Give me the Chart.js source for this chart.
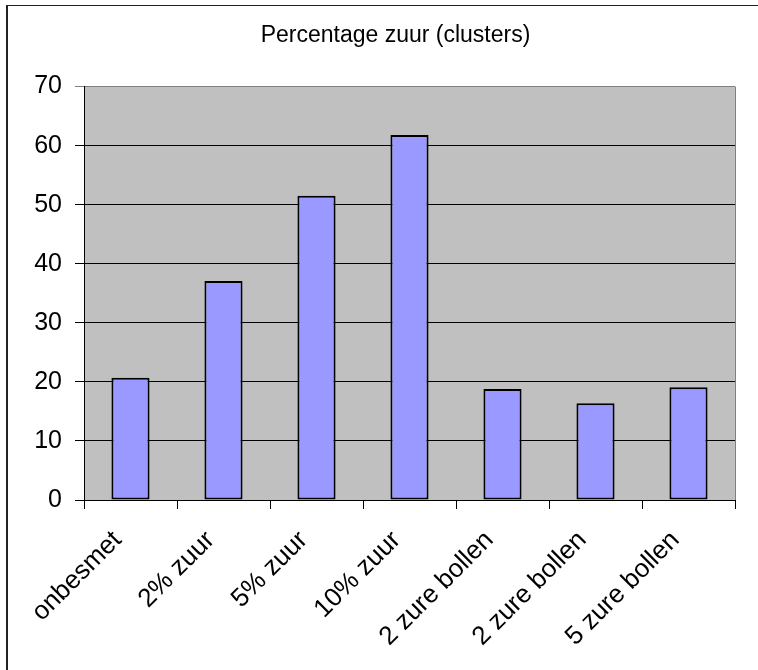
<!DOCTYPE html>
<html lang="en">
  <head>
    <meta charset="UTF-8" />
    <title>Percentage zuur (clusters)</title>
    <style>
      body {
        margin: 0;
        padding: 0;
        background: #fff;
      }
      .wrap {
        position: relative;
        width: 758px;
        height: 670px;
      }
    </style>
  </head>
  <body>
    <div class="wrap">
      <canvas id="chart" width="758" height="670"></canvas>
    </div>
    <script src="https://cdn.jsdelivr.net/npm/chart.js@4.4.0/dist/chart.umd.min.js"></script>
    <script>
      // data
      const categories = [
        'onbesmet',
        '2% zuur',
        '5% zuur',
        '10% zuur',
        '2 zure bollen',
        '2 zure bollen',
        '5 zure bollen',
      ];
      const values = [20.7, 37.1, 51.5, 61.8, 18.8, 16.4, 19.1];
      const yTicks = [0, 10, 20, 30, 40, 50, 60, 70];

      const fontFamily = "'Liberation Sans', Arial, sans-serif";

      // gray plot background, frame around the picture
      const frame = {
        id: 'frame',
        beforeDraw(chart) {
          const { ctx, chartArea } = chart;
          ctx.save();
          ctx.fillStyle = '#c0c0c0';
          ctx.fillRect(chartArea.left, chartArea.top, chartArea.right - chartArea.left, chartArea.bottom - chartArea.top);
          // outer border (left + top only, the rest is cut off)
          ctx.fillStyle = '#222';
          ctx.fillRect(6, 5, 2, 670);
          ctx.fillRect(6, 5, 758, 1);
          ctx.restore();
        },
        beforeDatasetsDraw(chart) {
          const { ctx, chartArea } = chart;
          ctx.save();
          ctx.strokeStyle = '#808080';
          ctx.lineWidth = 1;
          ctx.beginPath();
          ctx.moveTo(Math.round(chartArea.right) + 0.5, chartArea.top);
          ctx.lineTo(Math.round(chartArea.right) + 0.5, chartArea.bottom);
          ctx.stroke();
          ctx.restore();
        },
      };

      new Chart(document.getElementById('chart'), {
        type: 'bar',
        data: {
          labels: categories,
          datasets: [
            {
              data: values,
              backgroundColor: '#9999ff',
              borderColor: '#000',
              borderWidth: 2,
              borderSkipped: false,
              barPercentage: 0.41,
              categoryPercentage: 1,
            },
          ],
        },
        options: {
          responsive: false,
          animation: false,
          layout: {
            padding: { left: 33, right: 0, top: 0, bottom: 0 },
          },
          plugins: {
            legend: { display: false },
            tooltip: { enabled: false },
            title: {
              display: true,
              text: 'Percentage zuur (clusters)',
              color: '#000',
              font: { family: fontFamily, size: 23, weight: 'normal' },
              padding: { top: 22, bottom: 37 },
            },
          },
          scales: {
            x: {
              grid: {
                drawOnChartArea: false,
                drawTicks: true,
                tickLength: 9,
                color: '#000',
              },
              border: { color: '#000', width: 1 },
              ticks: {
                color: '#000',
                autoSkip: false,
                minRotation: 45,
                maxRotation: 45,
                padding: 16,
                labelOffset: -13,
                font: { family: fontFamily, size: 26 },
              },
              afterFit(scale) {
                scale.height = 170;
              },
            },
            y: {
              min: 0,
              max: 70,
              afterBuildTicks(scale) {
                scale.ticks = yTicks.map((v) => ({ value: v }));
              },
              grid: {
                color: (c) => (c.tick && c.tick.value === 70 ? '#808080' : '#000'),
                tickLength: 9,
              },
              border: { color: '#000', width: 1 },
              ticks: {
                color: '#000',
                padding: 13,
                font: { family: fontFamily, size: 25 },
              },
              afterFit(scale) {
                scale.width = 51;
              },
            },
            // empty strip on the right so the plot ends where the original does
            side: {
              type: 'linear',
              position: 'right',
              display: true,
              grid: { display: false },
              ticks: { display: false },
              border: { display: false },
              afterFit(scale) {
                scale.width = 23;
              },
            },
          },
        },
        plugins: [frame],
      });
    </script>
  </body>
</html>
